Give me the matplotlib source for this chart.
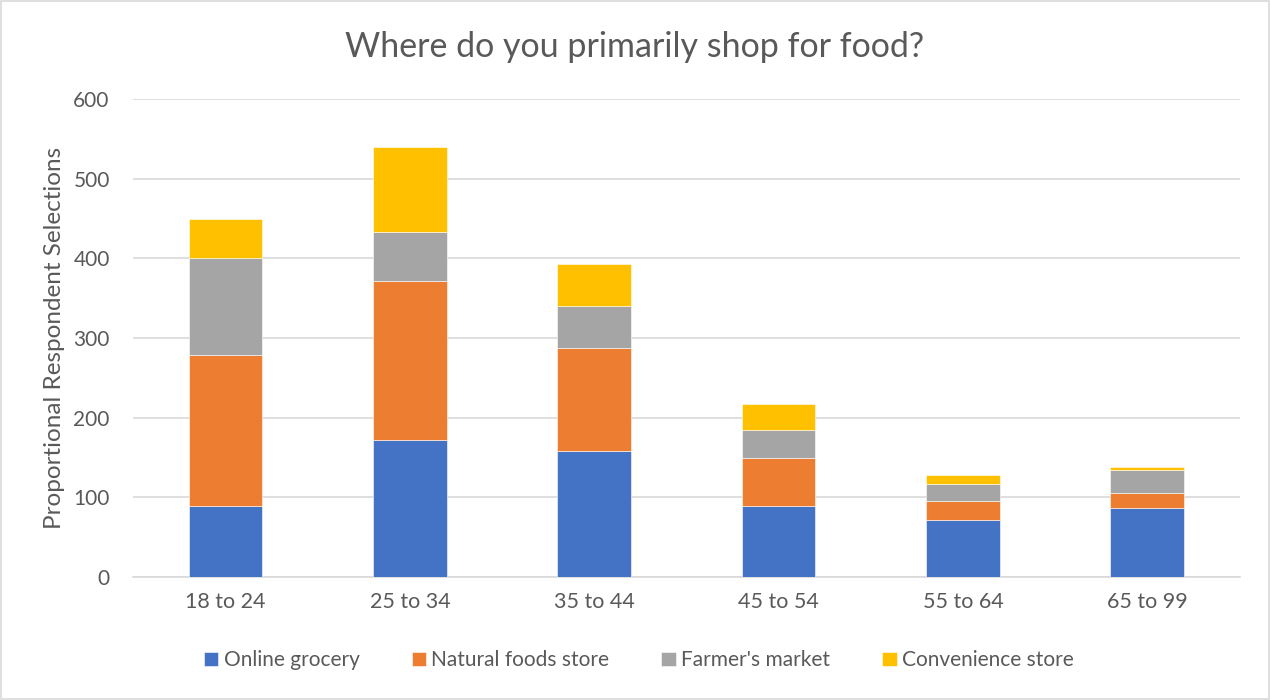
import numpy as np
import matplotlib.pyplot as plt
from matplotlib.patches import Rectangle

plt.rcParams['font.family'] = ['Lato', 'DejaVu Sans']

age_groups = ['18 to 24', '25 to 34', '35 to 44', '45 to 54', '55 to 64', '65 to 99']
online_grocery = [89, 172, 158, 89, 72, 86]
natural_foods = [190, 200, 130, 61, 23, 19]
farmers_market = [121, 61, 52, 34, 22, 29]
convenience = [49, 107, 53, 33, 11, 4]

series = [
    ('Online grocery', online_grocery, '#4472C4'),
    ('Natural foods store', natural_foods, '#ED7D31'),
    ("Farmer's market", farmers_market, '#A5A5A5'),
    ('Convenience store', convenience, '#FFC000'),
]

text_color = '#595959'
grid_color = '#D9D9D9'

fig = plt.figure(figsize=(12.7, 7), dpi=100)
ax = fig.add_axes([0.105, 0.1757, 0.871, 0.6829])

x = np.arange(len(age_groups))
bottom = np.zeros(len(age_groups))
for name, vals, color in series:
    ax.bar(x, vals, width=0.4, bottom=bottom, color=color, label=name,
           edgecolor='white', linewidth=0.4, zorder=3)
    bottom += np.array(vals)

ax.set_xlim(-0.5, len(age_groups) - 0.5)
ax.set_ylim(0, 600)
ax.set_yticks(range(0, 601, 100))
ax.set_xticks(x)
ax.set_xticklabels(age_groups)
ax.tick_params(axis='both', length=0, colors=text_color)
ax.tick_params(axis='x', pad=11, labelsize=15.5)
ax.tick_params(axis='y', pad=17, labelsize=15)
ax.grid(axis='y', color=grid_color, linewidth=1.2, zorder=0)
for side in ['top', 'right', 'left']:
    ax.spines[side].set_visible(False)
ax.spines['bottom'].set_color(grid_color)
ax.spines['bottom'].set_linewidth(1.2)

ax.set_ylabel('Proportional Respondent Selections', fontsize=17.5,
              color=text_color, labelpad=6)
fig.text(0.5, 0.933, 'Where do you primarily shop for food?', ha='center',
         va='center', fontsize=24.5, color=text_color)

fig.legend(loc='center', bbox_to_anchor=(0.503, 0.057), ncol=4, frameon=False,
           fontsize=15, labelcolor=text_color, handlelength=0.7,
           handleheight=0.7, handletextpad=0.25, columnspacing=2.5)

# thin frame around the whole chart
fig.patches.append(Rectangle((0.001, 0.001), 0.998, 0.998, transform=fig.transFigure,
                             fill=False, edgecolor=grid_color, linewidth=1.2))

fig.savefig('out.png', dpi=100)
